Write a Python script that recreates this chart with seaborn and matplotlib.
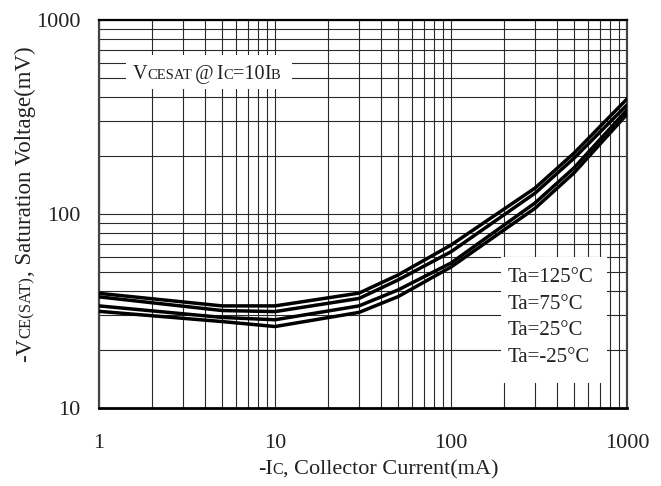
import matplotlib
matplotlib.use("Agg")
import matplotlib.pyplot as plt
import seaborn as sns
import pandas as pd
import numpy as np
from matplotlib.patches import Rectangle
from matplotlib.text import Annotation
from matplotlib.ticker import FixedLocator, FixedFormatter, LogLocator, NullFormatter

# ---- data ----
ic_ma = [1, 5, 10, 30, 50, 100, 300, 500, 1000]
v_125 = [39.0, 33.6, 33.6, 39.1, 48.5, 69.2, 136, 206, 392]
v_75 = [37.4, 31.8, 31.4, 36.7, 45.7, 63.9, 128, 194, 365]
v_25 = [33.6, 29.3, 28.5, 33.6, 40.6, 55.9, 114, 173, 344]
v_m25 = [31.5, 27.9, 26.3, 31.1, 37.5, 53.3, 107, 163, 327]
temps = ["Ta=125°C", "Ta=75°C", "Ta=25°C", "Ta=-25°C"]
series = [v_125, v_75, v_25, v_m25]

xticks = [1, 10, 100, 1000]
xtick_labels = ["1", "10", "100", "1000"]
yticks = [10, 100, 1000]
ytick_labels = ["10", "100", "1000"]

note_parts = [("V", "big"), ("CESAT", "small"), ("@", "big"), ("I", "big"),
              ("C", "small"), ("=10", "big"), ("I", "big"), ("B", "small")]
xlabel_parts = [("-I", "big"), ("C", "small"), (", Collector Current(mA)", "big")]
ylabel_parts = [("-V", "big"), ("CE(SAT)", "small"), (", Saturation Voltage(mV)", "big")]

# ---- style ----
sns.set_theme(style="white")
plt.rcParams['font.family'] = ['Liberation Serif', 'DejaVu Serif']

BIG = 16
SMALL = 11.5

fig = plt.figure(figsize=(6.61, 4.86), dpi=100)
ax = fig.add_axes([0.1498, 0.1605, 0.7988, 0.7983])
ax.set_xscale('log')
ax.set_yscale('log')

rows = []
for t, vals in zip(temps, series):
    for x, v in zip(ic_ma, vals):
        rows.append({"ic": x, "v": v, "temp": t})
df = pd.DataFrame(rows)

sns.lineplot(data=df, x="ic", y="v", hue="temp", hue_order=temps,
             palette=["black"] * len(temps), lw=2.5, legend=False,
             estimator=None, ax=ax, zorder=3)

ax.set_xlim(1, 1000)
ax.set_ylim(10, 1000)
ax.xaxis.set_major_locator(FixedLocator(xticks))
ax.xaxis.set_major_formatter(FixedFormatter(xtick_labels))
ax.yaxis.set_major_locator(FixedLocator(yticks))
ax.yaxis.set_major_formatter(FixedFormatter(ytick_labels))
ax.xaxis.set_minor_locator(LogLocator(base=10, subs=np.arange(2, 10)))
ax.yaxis.set_minor_locator(LogLocator(base=10, subs=np.arange(2, 10)))
ax.xaxis.set_minor_formatter(NullFormatter())
ax.yaxis.set_minor_formatter(NullFormatter())
ax.tick_params(axis='x', which='major', length=0, pad=18.5, labelsize=BIG, labelcolor='#222')
ax.tick_params(axis='y', which='major', length=0, pad=13.5, labelsize=BIG, labelcolor='#222')
ax.tick_params(which='minor', length=0)
ax.set_xlabel("")
ax.set_ylabel("")

ax.set_axisbelow(True)
ax.grid(which='both', color='#2a2a2a', lw=0.8)

for name, sp in ax.spines.items():
    sp.set_visible(True)
    sp.set_color('#444' if name in ('left', 'right') else 'black')
    sp.set_linewidth(1.6 if name != 'bottom' else 2.0)

# white boxes hiding the grid under the notes
ax.add_patch(Rectangle((0.051, 0.822), 0.315, 0.088, transform=ax.transAxes,
                       fc='white', ec='none', zorder=1.5))
ax.add_patch(Rectangle((0.761, 0.064), 0.201, 0.325, transform=ax.transAxes,
                       fc='white', ec='none', zorder=1.5))

color_txt = '#222'


def chain(container, x0, y0, parts, trans, big, small, rot=False, gaps=None):
    prev = None
    for i, (s, sz) in enumerate(parts):
        fs = big if sz == "big" else small
        kw = dict(fontsize=fs, ha='left', va='baseline', color=color_txt, zorder=4)
        if rot:
            kw.update(rotation=90, rotation_mode='anchor')
        g = gaps[i] if gaps else 0
        if prev is None:
            a = Annotation(s, xy=(x0, y0), xycoords=trans, **kw)
        elif rot:
            a = Annotation(s, xy=(x0, 1), xycoords=(trans, prev),
                           xytext=(0, g), textcoords='offset points', **kw)
        else:
            a = Annotation(s, xy=(1, y0), xycoords=(prev, trans),
                           xytext=(g, 0), textcoords='offset points', **kw)
        container.add_artist(a)
        prev = a
    return prev


# note text
chain(ax, 0.0644, 0.848, note_parts, ax.transAxes, 14.5, 10.5,
      gaps=[0, 0, 2, 2, 0, 0, 0, 0])

# legend-like temperature labels
leg_y = [0.3235, 0.2564, 0.1869, 0.1173]
for t, yy in zip(temps, leg_y):
    ax.text(0.773, yy, t, transform=ax.transAxes, fontsize=15,
            ha='left', va='baseline', color=color_txt, zorder=4)

# x label
chain(fig, 0.390, 0.0247, xlabel_parts, fig.transFigure, BIG, SMALL)

# y label (rotated, reads bottom to top)
chain(fig, 0.047, 0.255, ylabel_parts, fig.transFigure, 16.5, 12, rot=True)

fig.savefig("out.png", dpi=100)
